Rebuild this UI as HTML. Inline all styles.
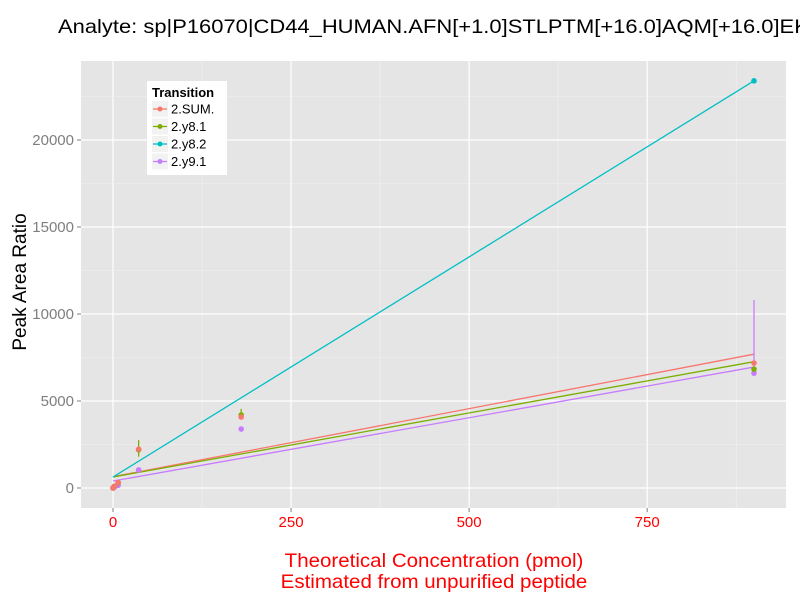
<!DOCTYPE html>
<html><head><meta charset="utf-8"><style>
html,body{margin:0;padding:0;background:#fff;width:800px;height:600px;overflow:hidden}
svg text{font-family:"Liberation Sans",sans-serif}
</style></head><body>
<svg id="chart" width="800" height="600" xmlns="http://www.w3.org/2000/svg">
<text transform="translate(58,33) scale(1.155,1)" font-size="19" fill="#000">Analyte: sp|P16070|CD44_HUMAN.AFN[+1.0]STLPTM[+16.0]AQM[+16.0]EK</text>
<rect x="81" y="61" width="705" height="447" fill="#e5e5e5"/>
<g id="grid"></g>
<g id="marks"></g>
<g id="axes"></g>
<text transform="translate(26,282) rotate(-90)" font-size="19" text-anchor="middle" fill="#000">Peak Area Ratio</text>
<text transform="translate(434,567) scale(1.08,1)" font-size="19" text-anchor="middle" fill="#ff0000">Theoretical Concentration (pmol)</text>
<text transform="translate(434,588) scale(1.08,1)" font-size="19" text-anchor="middle" fill="#ff0000">Estimated from unpurified peptide</text>
<g>
<rect x="147" y="81" width="80" height="94" fill="#fff"/>
<text x="152" y="97" font-size="13" font-weight="bold" fill="#000">Transition</text>
<g id="legend"></g>
</g>
</svg>
<script>
const categories = ["2.SUM.", "2.y8.1", "2.y8.2", "2.y9.1"];
const colors = ["#F8766D", "#7CAE00", "#00BFC4", "#C77CFF"];
const xTicks = [0, 250, 500, 750];
const yTicks = [0, 5000, 10000, 15000, 20000];
const concX = [0, 1.8, 7.2, 36, 180, 900];
const sumY = [0, 100, 320, 2230, 4080, 7180];
const y81Y = [0, 90, 300, 2200, 4200, 6830];
const y82Y = [null, null, null, null, null, 23400];
const y91Y = [0, 40, 150, 1040, 3390, 6600];
const errLo81 = [null, null, null, 1800, 3950, null];
const errHi81 = [null, null, null, 2750, 4550, null];
const errLo91 = [null, null, null, null, null, 6600];
const errHi91 = [null, null, null, null, null, 10800];
const fitIntercept = [650, 630, 630, 400];
const fitAt900 = [7690, 7260, 23400, 6950];

const sx = v => 113 + v * (754 - 113) / 900;
const sy = v => 488 - v * (488 - 140) / 20000;
const NS = "http://www.w3.org/2000/svg";
function mk(tag, attrs, parent){const e=document.createElementNS(NS,tag);for(const k in attrs)e.setAttribute(k,attrs[k]);parent.appendChild(e);return e;}
const grid=document.getElementById('grid'), marks=document.getElementById('marks'), axes=document.getElementById('axes'), legend=document.getElementById('legend');

xTicks.forEach((t,i)=>{
  if(i<xTicks.length-1){const m=(t+xTicks[i+1])/2;
    const gm=mk('line',{x1:sx(m),x2:sx(m),y1:61,y2:508,stroke:'#f2f2f2','stroke-width':0.6},grid);
    
    }
  const g=mk('line',{x1:sx(t),x2:sx(t),y1:61,y2:508,stroke:'#fff','stroke-width':1.2},grid);
  
  
  const tk=mk('line',{x1:sx(t),x2:sx(t),y1:508,y2:512,stroke:'#7f7f7f'},axes);
  
  
  const lb=mk('text',{x:sx(t),y:527,'font-size':15,'text-anchor':'middle',fill:'#ff0000'},axes);
  lb.textContent=t;
  
  
});
{const gm=mk('line',{x1:sx(875),x2:sx(875),y1:61,y2:508,stroke:'#f2f2f2','stroke-width':0.6},grid);

}
[2500,7500,12500,17500,22500].forEach(m=>{
  const gm=mk('line',{x1:81,x2:786,y1:sy(m),y2:sy(m),stroke:'#f2f2f2','stroke-width':0.6},grid);
  
  
});
yTicks.forEach(t=>{
  const g=mk('line',{x1:81,x2:786,y1:sy(t),y2:sy(t),stroke:'#fff','stroke-width':1.2},grid);
  
  
  const tk=mk('line',{x1:77,x2:81,y1:sy(t),y2:sy(t),stroke:'#7f7f7f'},axes);
  
  
  const lb=mk('text',{x:74,y:sy(t)+5,'font-size':15,'text-anchor':'end',fill:'#7f7f7f'},axes);
  lb.textContent=t;
  
  
});

const series=[sumY,y81Y,y82Y,y91Y];
series.forEach((s,i)=>{
  const l=mk('line',{x1:sx(0),y1:sy(fitIntercept[i]),x2:sx(900),y2:sy(fitAt900[i]),stroke:colors[i],'stroke-width':1.3},marks);
  
  
});
concX.forEach((x,j)=>{
  if(errLo81[j]!=null){const e=mk('line',{x1:sx(x),x2:sx(x),y1:sy(errLo81[j]),y2:sy(errHi81[j]),stroke:colors[1],'stroke-width':1.3},marks);
    
    }
  if(errLo91[j]!=null){const e=mk('line',{x1:sx(x),x2:sx(x),y1:sy(errLo91[j]),y2:sy(errHi91[j]),stroke:colors[3],'stroke-width':1.3},marks);
    
    }
});
[3,2,1,0].forEach(i=>{
  series[i].forEach((v,j)=>{
    if(v==null)return;
    const c=mk('circle',{cx:sx(concX[j]),cy:sy(v),r:2.8,fill:colors[i]},marks);
    
    
  });
});
categories.forEach((c,i)=>{
  const y=109+i*17.5;
  const bg=mk('rect',{x:152,y:y-8,width:16,height:16,fill:'#f2f2f2'},legend);
  
  
  const l=mk('line',{x1:153,x2:167,y1:y,y2:y,stroke:colors[i],'stroke-width':1.3},legend);
  
  
  const p=mk('circle',{cx:160,cy:y,r:2.5,fill:colors[i]},legend);
  
  
  const t=mk('text',{x:171,y:y+4.5,'font-size':13,fill:'#000'},legend);
  t.textContent=c;
  
  
});
</script>
</body></html>
